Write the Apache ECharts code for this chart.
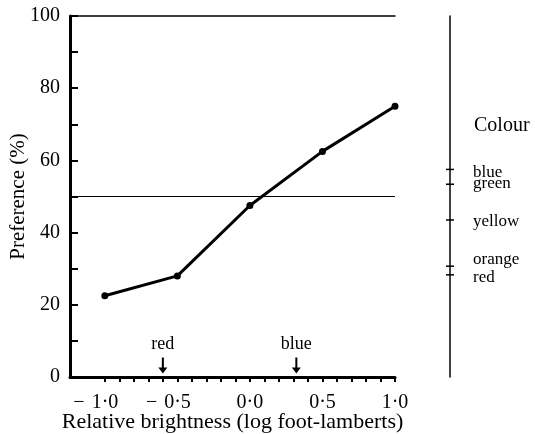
<!DOCTYPE html>
<html>
<head>
<meta charset="utf-8">
<script src="https://cdn.jsdelivr.net/npm/echarts@6/dist/echarts.min.js"></script>
<style>
html,body{margin:0;padding:0;background:#fff;}
#chart{width:535px;height:434px;}
</style>
</head>
<body>
<div id="chart"></div>
<script>
// ---- data ----
var brightness = [-1.0, -0.5, 0.0, 0.5, 1.0];
var preference = [22.5, 28, 47.5, 62.5, 75];
var xLabelValues = [-1.0, -0.5, 0.0, 0.5, 1.0];
var xTickValues = [-1.0,-0.9,-0.8,-0.7,-0.6,-0.5,-0.4,-0.3,-0.2,-0.1,0.0,0.1,0.2,0.3,0.4,0.5,0.6,0.7,0.8,0.9,1.0];
var arrowBrightness = [-0.6, 0.32];
var arrowNames = ['red', 'blue'];
var colourNames = ['blue', 'green', 'yellow', 'orange', 'red'];
var colourPreference = [57.5, 53.4, 43.5, 30.7, 28.3];
var referenceLevel = 50;

// ---- styles ----
var SERIF = "'Liberation Serif', serif";
var INK = '#000';
// vertical padding [top, bottom] used to nudge crowded colour labels apart
var labelPad = { blue: [6, 0], green: [0, 2], yellow: [4, 0], orange: [0, 14], red: [6, 0] };

function fmtNum(v) { return Math.abs(v).toFixed(1).replace('.', '\u00B7'); }

var colourRich = {};
colourNames.forEach(function (n) {
  colourRich[n] = { fontFamily: SERIF, fontSize: 17, color: INK, padding: [labelPad[n][0], 0, labelPad[n][1], 0] };
});

var chart = echarts.init(document.getElementById('chart'), null, { renderer: 'canvas' });
chart.setOption({
  animation: false,
  backgroundColor: '#fff',
  textStyle: { fontFamily: SERIF, color: INK },
  title: {
    text: 'Colour', left: 474, top: 116, padding: 0,
    textStyle: { fontFamily: SERIF, fontSize: 20, fontWeight: 'normal', color: INK }
  },
  grid: [
    { left: 70, top: 16, right: 140, bottom: 57, outerBoundsMode: 'none', containLabel: false },
    { left: 450, top: 16, width: 10, bottom: 57, outerBoundsMode: 'none', containLabel: false }
  ],
  xAxis: [{
    gridIndex: 0, type: 'value', position: 'bottom', min: -1.24, max: 1.0,
    name: 'Relative brightness (log foot-lamberts)', nameLocation: 'middle', nameGap: 34,
    nameMoveOverlap: false,
    nameTextStyle: { fontFamily: SERIF, fontSize: 22, color: INK },
    axisLine: { show: true, onZero: false, lineStyle: { color: INK, width: 3 } },
    axisTick: { show: true, inside: false, length: 5, customValues: xTickValues, lineStyle: { color: INK, width: 2 } },
    axisLabel: {
      show: true, margin: 16, customValues: xLabelValues,
      fontFamily: SERIF, fontSize: 20, color: INK,
      formatter: function (v) {
        var s = fmtNum(v);
        if (v < 0) return '{m|\u2212}{d|' + s + '}';
        return '{p|' + s + '}';
      },
      rich: {
        m: { fontFamily: SERIF, fontSize: 20, color: INK, padding: [0, 7, 0, 0] },
        d: { fontFamily: SERIF, fontSize: 20, color: INK, padding: [0, 18, 0, 0] },
        p: { fontFamily: SERIF, fontSize: 20, color: INK }
      }
    },
    splitLine: { show: false }
  }, {
    gridIndex: 0, type: 'value', position: 'top', min: -1.24, max: 1.0,
    axisLine: { show: true, onZero: false, lineStyle: { color: INK, width: 1.5 } },
    axisTick: { show: false }, axisLabel: { show: false }, splitLine: { show: false }
  }, {
    gridIndex: 1, type: 'value', min: 0, max: 1, show: false
  }],
  yAxis: [{
    gridIndex: 0, type: 'value', position: 'left', min: 0, max: 100, interval: 10,
    name: 'Preference (%)', nameLocation: 'middle', nameGap: 41, nameRotate: 90,
    nameMoveOverlap: false,
    nameTextStyle: { fontFamily: SERIF, fontSize: 21, color: INK },
    axisLine: { show: true, onZero: false, lineStyle: { color: INK, width: 3 } },
    axisTick: { show: true, inside: true, length: 8, lineStyle: { color: INK, width: 2 } },
    axisLabel: {
      show: true, margin: 10, fontFamily: SERIF, fontSize: 20, color: INK,
      formatter: function (v) { return (Math.round(v) % 20 === 0) ? String(Math.round(v)) : ''; }
    },
    splitLine: { show: false }
  }, {
    gridIndex: 1, type: 'value', position: 'left', min: 0, max: 100,
    axisLine: { show: true, onZero: false, lineStyle: { color: INK, width: 1.5 } },
    axisTick: { show: false }, axisLabel: { show: false }, splitLine: { show: false }
  }],
  series: [{
    type: 'line',
    data: brightness.map(function (x, i) { return [x, preference[i]]; }),
    xAxisIndex: 0, yAxisIndex: 0,
    symbol: 'circle', symbolSize: 7,
    itemStyle: { color: INK },
    lineStyle: { color: INK, width: 3 },
    markLine: {
      silent: true, symbol: ['none', 'none'],
      label: { show: false },
      lineStyle: { color: INK, width: 1, type: 'solid' },
      data: [{ yAxis: referenceLevel }]
    },
    z: 3
  }, {
    type: 'scatter',
    xAxisIndex: 0, yAxisIndex: 0,
    data: arrowBrightness.map(function (x, i) { return { value: [x, 3.2], name: arrowNames[i] }; }),
    symbol: 'path://M3.5,0 L5.5,0 L5.5,10 L9,10 L4.5,16 L0,10 L3.5,10 Z',
    symbolSize: [9, 16],
    itemStyle: { color: INK, opacity: 1 },
    label: {
      show: true, position: 'top', distance: 4,
      formatter: function (p) { return p.name; },
      fontFamily: SERIF, fontSize: 18, color: INK, opacity: 1
    },
    z: 4
  }, {
    type: 'scatter',
    xAxisIndex: 2, yAxisIndex: 1,
    data: colourPreference.map(function (v, i) { return { value: [0, v], name: colourNames[i] }; }),
    symbol: 'rect', symbolSize: [8, 1.5],
    itemStyle: { color: INK, opacity: 1 },
    label: {
      show: true, position: 'right', distance: 19,
      formatter: function (p) { return '{' + p.name + '|' + p.name + '}'; },
      rich: colourRich,
      fontFamily: SERIF, fontSize: 17, color: INK, opacity: 1
    },
    labelLayout: { hideOverlap: false },
    z: 4
  }]
});
</script>
</body>
</html>
